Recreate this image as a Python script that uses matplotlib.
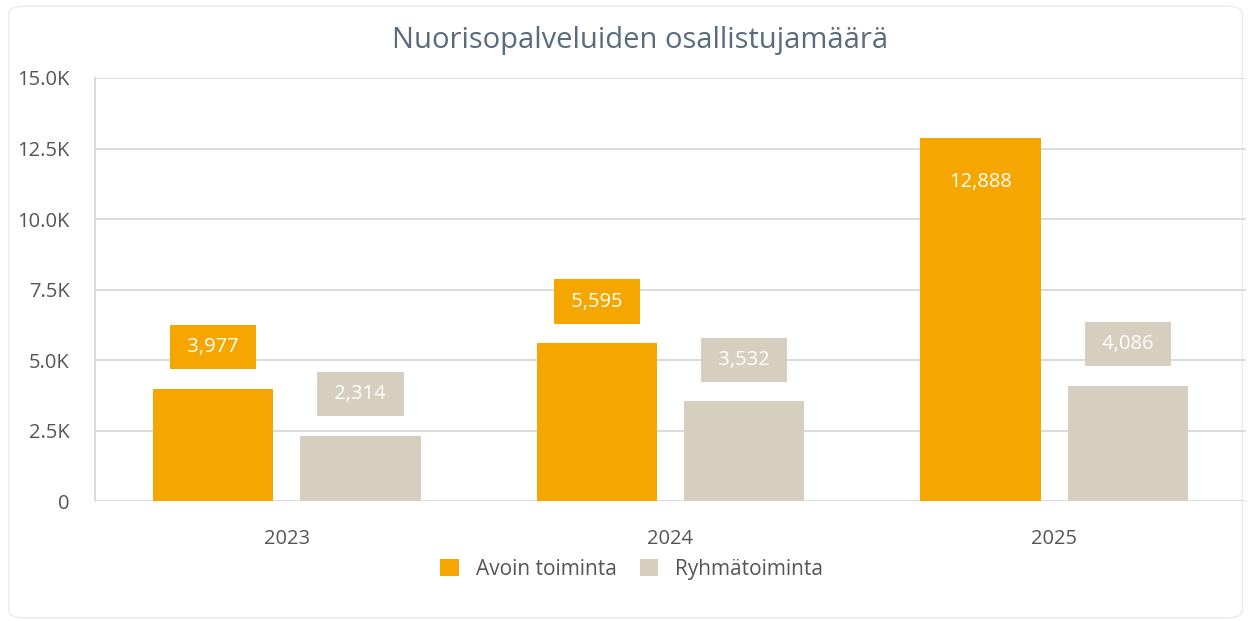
import matplotlib
matplotlib.use('Agg')
import matplotlib.pyplot as plt
from matplotlib.patches import FancyBboxPatch
from matplotlib.ticker import FuncFormatter
import numpy as np

plt.rcParams['font.family'] = ['Open Sans', 'DejaVu Sans']

years = ['2023', '2024', '2025']
avoin = [3977, 5595, 12888]
ryhma = [2314, 3532, 4086]
series_names = ['Avoin toiminta', 'Ryhmätoiminta']
colors = ['#F6A600', '#D6CEBE']
yticks = [0, 2500, 5000, 7500, 10000, 12500, 15000]

fig = plt.figure(figsize=(12.51, 6.21), dpi=100)
fig.patch.set_facecolor('white')
# card outline
card = FancyBboxPatch((0.007, 0.005), 0.986, 0.985, boxstyle='round,pad=0,rounding_size=0.012',
                      transform=fig.transFigure, facecolor='white', edgecolor='#ececec', lw=1.0,
                      zorder=-10)
fig.patches.append(card)

ax = fig.add_axes([0.0759, 0.1932, 0.9201, 0.6812])
ax.set_facecolor('none')
x = np.arange(len(years))
w = 0.313
off = 0.192

bars1 = ax.bar(x - off, avoin, w, color=colors[0], label=series_names[0], zorder=3)
bars2 = ax.bar(x + off, ryhma, w, color=colors[1], label=series_names[1], zorder=3)

ax.set_xlim(-0.5, 2.5)
ax.set_ylim(0, 15000)
ax.set_yticks(yticks)
ax.yaxis.set_major_formatter(FuncFormatter(lambda v, p: '0' if v == 0 else f'{v/1000:.1f}K'))
ax.set_xticks(x)
ax.set_xticklabels(years)
ax.tick_params(axis='both', length=0, labelsize=14.5, colors='#555555')
ax.tick_params(axis='y', pad=18)
ax.tick_params(axis='x', pad=20)
ax.grid(axis='y', color='#d9d9d9', lw=1.3, zorder=0)
for s in ['top', 'right', 'bottom']:
    ax.spines[s].set_visible(False)
ax.spines['left'].set_color('#d9d9d9')
ax.spines['left'].set_linewidth(1.3)

def label(bars, vals, col):
    for b, v in zip(bars, vals):
        cx = b.get_x() + b.get_width() / 2
        txt = f'{v:,}'
        if v > 10000:
            ax.annotate(txt, (cx, v), xytext=(0, -32), textcoords='offset points',
                        ha='center', va='center', color='white', fontsize=14.5, zorder=5)
        else:
            ax.annotate(' ' + txt + ' ', (cx, v), xytext=(0, 30), textcoords='offset points',
                        ha='center', va='center', color='white', fontsize=14.5, zorder=5,
                        bbox=dict(boxstyle='square,pad=0.6', facecolor=col, edgecolor='none'))

label(bars1, avoin, colors[0])
label(bars2, ryhma, colors[1])

fig.text(0.512, 0.935, 'Nuorisopalveluiden osallistujamäärä', ha='center', va='center',
         fontsize=21, color='#5b6b7b')

leg = fig.legend(loc='center', bbox_to_anchor=(0.505, 0.083), ncol=2, frameon=False,
                 fontsize=15, handlelength=0.9, handleheight=0.9, handletextpad=0.8,
                 columnspacing=1.1)
for t in leg.get_texts():
    t.set_color('#555555')

fig.savefig('out.png', dpi=100, facecolor='white')
